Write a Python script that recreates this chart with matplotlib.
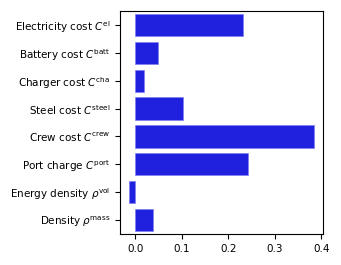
import matplotlib
matplotlib.use("Agg")
import matplotlib.pyplot as plt
import numpy as np

labels = [r"Electricity cost $C^{\mathrm{el}}$", r"Battery cost $C^{\mathrm{batt}}$",
          r"Charger cost $C^{\mathrm{cha}}$", r"Steel cost $C^{\mathrm{steel}}$",
          r"Crew cost $C^{\mathrm{crew}}$", r"Port charge $C^{\mathrm{port}}$",
          r"Energy density $\rho^{\mathrm{vol}}$", r"Density $\rho^{\mathrm{mass}}$"]
values = [0.232, 0.048, 0.019, 0.103, 0.384, 0.242, -0.013, 0.039]

plt.rcParams['font.size'] = 7.5
plt.rcParams['mathtext.fontset'] = 'dejavusans'
fig = plt.figure(figsize=(3.41, 2.65), dpi=100)
ax = fig.add_axes([0.352, 0.117, 0.595, 0.841])
y = np.arange(len(labels))
ax.barh(y, values, height=0.8, color=(0.125, 0.125, 0.875), edgecolor=(0.5, 0.5, 0.95), linewidth=0.5)
ax.set_yticks(y)
ax.set_yticklabels(labels)
ax.set_ylim(len(labels) - 0.5, -0.5)
ax.set_xticks([0.0, 0.1, 0.2, 0.3, 0.4])
fig.savefig("out.png", dpi=100)
